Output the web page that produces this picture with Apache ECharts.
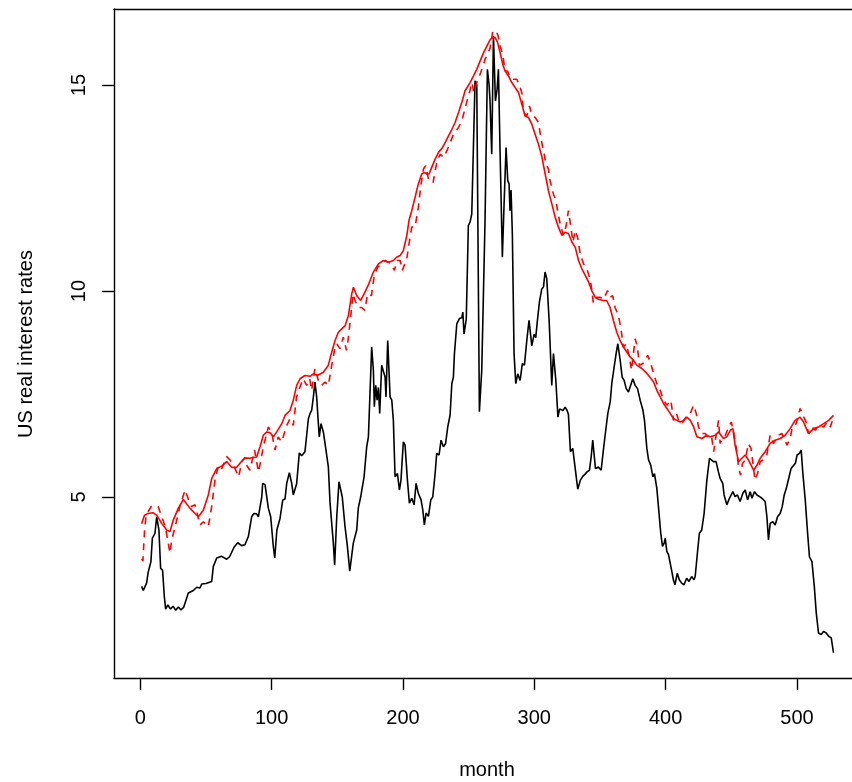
<!DOCTYPE html>
<html>
<head>
<meta charset="utf-8">
<script src="https://cdn.jsdelivr.net/npm/echarts@6/dist/echarts.min.js"></script>
<style>
  html, body { margin: 0; padding: 0; background: #fff; }
  #chart { width: 852px; height: 782px; }
</style>
</head>
<body>
<div id="chart"></div>
<script>
// Monthly US real interest rate (black line)
const rateMonths = [1,2.3,4.8,6,8.1,9.2,11.2,12.5,14.2,15.5,17,18.3,19.3,21,23,25,27,29,31,33,34,36.6,40.4,43,45.5,46.8,50,54.4,55.6,58.2,62,65.8,68,71.4,74.2,77.2,79.7,82.3,84.8,86.5,88.6,89.9,92.5,93.2,95,97.5,99.3,101.3,102.4,104,106.4,108.5,110.2,111.5,113.5,115.3,116.5,119.1,121.1,122.9,125.4,126.7,128,129.3,130.5,131.8,133,134.3,135.6,136.3,137.6,139.4,141.4,143.2,144.5,147,148,149.6,151.3,153.8,155.9,157.7,159.5,162.2,164.8,166,167.8,170.4,172.4,173.7,176.2,177.5,178.2,179.3,180.3,181.3,182.3,183.8,185.1,186.4,187.1,188.4,190.2,191.5,192.7,194,195.8,197.3,198.5,200.3,201.6,203.4,204.9,206.7,208.5,210,211.7,213.8,215.1,216.3,217.6,219.4,221.2,222.7,224.5,225.7,227.5,229,230.8,232.5,234.1,235.9,237.2,238.4,239.2,241,243,244.8,245.6,246.5,248.2,249.8,251.1,252.4,253.7,254.9,256.2,258.2,260,262.5,264.3,265.6,266.3,267.6,268.9,270.4,271.7,272.7,274,275.7,277,278.5,279.8,280.8,281.5,282.3,283.3,284.6,285.9,287.4,289.2,290.9,292.5,294.3,296,298.1,299.9,301.1,302.4,303.9,305.7,307,308.2,309.5,311.3,313.3,314.6,316.4,318,319.3,321.8,323.5,325,326,327.5,329.3,331,333.1,335.1,336.9,338.5,340.2,342,343.3,344.5,346.6,348.8,350.9,352.6,354.4,356,357.8,359,360.8,362.3,363.6,365.4,366.9,368.4,370,371.7,373,375,376.8,378.6,380.6,382.7,383.9,385.7,387,388.7,390.3,391.5,393.3,395.1,396.3,397.6,398.9,399.7,400.9,402.2,404.5,405.9,407.1,408.9,410.4,412.2,414,416,417.8,419.8,421.6,422.5,424.2,425.7,427.5,429.3,431.4,433.4,434.6,436.4,438.4,440.2,441.5,443.5,444.5,446.6,448.6,451.2,452.9,454.7,456.7,458.8,460.6,462.4,464.4,465.7,467.7,469.5,471.6,473.3,475.8,477.1,478.3,479.6,481.6,483.4,485.2,487.2,488.8,490.3,491.9,493.7,495.5,497,498.8,500.1,501.9,503.2,504.5,506.3,508.1,509.5,511.4,513.2,514.7,516.4,518.5,520.3,522.3,524.1,526.1,527.8];
const rateValues = [2.83,2.73,2.91,3.17,3.43,4.0,4.12,4.52,4.2,3.27,3.22,2.59,2.28,2.38,2.28,2.35,2.25,2.33,2.26,2.32,2.28,2.67,2.73,2.81,2.79,2.89,2.9,2.95,3.31,3.52,3.56,3.49,3.55,3.78,3.89,3.82,3.84,4.04,4.52,4.6,4.59,4.52,5.0,5.33,5.3,4.73,4.52,3.8,3.52,4.2,4.48,4.93,4.95,5.33,5.59,5.33,5.05,5.33,6.07,6.0,6.1,6.5,6.9,7.03,7.1,7.43,7.79,7.43,6.78,6.46,6.78,6.58,6.14,5.73,4.85,3.88,3.35,4.52,5.37,5.0,4.28,3.8,3.2,3.88,4.2,4.73,5.0,5.49,6.22,6.46,8.64,8.07,7.19,7.71,7.35,7.66,7.03,8.2,8.16,7.91,7.43,8.8,7.43,7.35,6.86,5.49,5.57,5.17,5.41,6.34,6.26,5.41,4.85,4.97,4.81,5.33,5.09,4.93,4.69,4.32,4.61,4.53,4.93,5.0,5.57,6.06,6.02,6.38,6.22,6.3,6.7,6.99,7.75,7.91,8.48,9.2,9.33,9.35,9.49,8.96,9.31,11.59,11.67,11.87,11.9,15.1,15.0,7.07,8.08,11.7,15.38,15.0,14.61,13.32,16.19,14.61,14.9,15.38,13.3,10.82,12.11,13.48,12.68,12.6,11.95,12.45,11.38,8.48,7.75,7.99,7.83,8.24,8.2,8.8,9.29,8.67,8.95,8.87,9.29,9.73,10.05,10.1,10.46,10.3,9.29,7.71,8.48,7.83,6.94,7.14,7.1,7.18,7.1,7.0,6.1,6.18,5.73,5.19,5.41,5.5,5.55,5.61,5.65,5.97,6.38,5.69,5.73,5.65,6.14,6.62,7.03,7.31,7.75,8.15,8.48,8.72,8.32,7.91,7.83,7.63,7.55,7.59,7.87,7.71,7.63,7.35,7.11,6.86,6.18,5.9,5.77,5.49,5.57,5.21,4.56,4.12,3.8,3.88,4.0,3.68,3.6,3.23,2.99,2.87,3.15,2.99,2.91,2.87,3.03,2.95,3.07,2.99,3.07,3.64,4.12,4.2,4.6,5.41,5.94,5.98,5.86,5.86,5.61,5.45,5.33,5.05,4.81,4.97,5.13,5.01,5.05,4.89,5.09,5.17,4.93,5.13,4.97,5.13,5.05,5.01,4.97,4.89,4.52,3.96,4.36,4.4,4.32,4.52,4.6,4.77,5.05,5.21,5.45,5.69,5.67,5.82,6.02,6.06,6.14,5.57,4.93,4.12,3.55,3.43,2.83,2.18,1.7,1.66,1.74,1.7,1.62,1.58,1.22];

// Trend estimate (solid red line)
const trendMonths = [1,3.3,5.8,9.6,12.5,16.3,20.1,22.6,25.1,29,32.8,34,37.8,41.7,44.2,48,51.8,54.4,58.2,62,65.8,69.6,73.4,75.9,79.7,83.5,86,88.6,91.2,93.7,96.3,98.8,101.3,103.9,107.7,110.2,114,116.5,119.1,121.6,125.4,129.3,131.8,134.8,136.3,139.4,143.2,145.8,148.3,150.8,153.4,156,158.5,161,162.3,164.8,167.8,170.4,173.7,177.5,181.3,185.1,188.9,192.7,195.2,197.8,200.3,202.9,204.6,206.7,209.2,211.7,214.3,216.3,218.1,219.9,221.9,224.5,227,230,232.1,234.6,237.2,239.7,242.5,245,247.3,251.1,253.7,256.2,258.7,261.3,263.8,266.4,268.4,270.2,272,274,276,277.8,280.3,282.9,285.4,288,290.5,293,295.6,298.1,300.7,303.2,305.7,308.3,310.8,313.4,315.9,318.4,321,323.5,326.1,328.6,331.2,333.7,336.2,338.8,341.3,343.9,346.4,348.8,352.6,355.1,357.7,360.2,362.8,365.3,367.9,370.4,373,375.5,378,381.9,385.7,388,390.8,393.3,395.9,398.4,401,403.5,406,408.6,411.1,413.7,416.2,418.8,421.3,423.8,427.6,431.4,434,437.8,440.3,444,446.5,449.3,451.2,452.9,455.5,458,460.6,463,467,469.5,472,475.8,479.6,483.4,487.2,491,494.8,498.6,502.4,505,508.8,512.6,516.4,520.3,524.1,527.8];
const trendValues = [4.35,4.56,4.6,4.62,4.56,4.36,4.2,4.16,4.44,4.73,4.94,4.93,4.73,4.6,4.52,4.68,5.05,5.45,5.69,5.75,5.86,5.72,5.72,5.82,5.95,5.94,5.96,5.97,6.22,6.5,6.58,6.56,6.46,6.58,6.78,6.98,7.1,7.35,7.71,7.87,7.95,7.93,7.99,7.95,7.91,8.03,8.2,8.52,8.8,9.0,9.08,9.16,9.41,9.93,10.09,9.89,9.77,9.93,10.15,10.46,10.66,10.74,10.7,10.74,10.82,10.86,10.98,11.34,11.71,11.95,12.27,12.6,12.84,12.88,12.84,12.84,13.0,13.2,13.36,13.48,13.6,13.76,13.92,14.09,14.35,14.6,14.86,15.06,15.22,15.38,15.58,15.78,15.94,16.1,16.16,16.15,16.04,15.78,15.5,15.34,15.22,15.06,14.94,14.82,14.53,14.25,14.21,14.05,13.8,13.56,13.27,12.84,12.43,12.11,11.79,11.55,11.35,11.43,11.39,11.19,11.06,10.74,10.54,10.38,10.22,10.0,9.85,9.8,9.77,9.77,9.6,9.29,9.0,8.8,8.64,8.52,8.4,8.32,8.2,8.12,8.0,7.91,7.79,7.59,7.43,7.27,7.15,7.03,6.9,6.86,6.82,6.86,6.94,6.86,6.7,6.46,6.42,6.5,6.46,6.5,6.58,6.42,6.46,6.62,6.66,6.26,5.86,5.94,6.02,5.9,5.65,5.77,5.94,6.1,6.3,6.38,6.42,6.5,6.66,6.86,6.94,6.82,6.54,6.66,6.7,6.78,6.86,6.98];

// Alternative trend estimate (dashed red line)
const altMonths = [1,2,3.3,4.5,8.3,13.6,16.3,19.1,22.6,24,26.6,30.4,34.2,36.8,39,41.7,45.5,48,51.8,54.4,56.9,59.5,62,65.8,68.3,71,74.9,77.5,79.7,81,83.5,87,90,91.3,93.7,97.5,100,102.6,105,107.7,111.5,114,116.5,119,121.6,124,126.7,129,130.5,133,135.6,138,140.7,143.2,145.8,148.3,149.6,152,154.6,157,158.2,160.3,162,163.5,166,168.6,171,173,176,178.2,180.8,183.3,186.4,188.9,191,193.5,195.5,197.8,199.5,201,202.9,204.6,206.7,209.2,211.7,213.8,215.6,217.4,219.4,221,223,224.5,226.5,228.5,230.8,233.4,235.9,238.4,242.3,244.8,247,249.5,251,252.5,254,256.2,258.7,260.5,262.5,264.3,266.4,268.4,271,272.5,274,276,277.8,279.6,281.6,284,286.7,289.2,290.5,291.8,294.3,296.3,298,300.7,303.2,305,307,309,310.8,312,314.6,316.6,317.9,319.7,322.2,324.3,326,327.5,329.4,331.2,333,335,337.5,340,342,343.5,345,347.7,350,352.6,355.8,357.8,359.7,361.5,364,365.8,367.9,370,372.4,374,376.8,378.5,380,382.7,386.3,388.7,390.8,393.3,395.9,398.4,401,404,406,408.3,410.6,413.2,416.2,418.8,421.3,423.3,425,427.6,430.2,432.7,435,436.6,439,440.3,441.5,443,445,448,450,452,454,455.5,457,458.5,460.6,463,465,467,468,470,472,474.5,477,479.6,482,486,488.6,492.4,494.8,496.5,499.4,502.4,504.5,507,508.8,511.4,514,516.4,520.3,523,525.4,527.8];
const altValues = [3.5,3.45,4.21,4.56,4.77,4.77,4.52,4.28,3.64,3.97,4.28,4.81,5.17,4.93,4.77,4.81,4.32,4.4,4.28,4.77,5.41,5.77,5.69,5.98,5.9,5.77,5.49,5.88,5.95,5.77,5.65,6.14,5.61,5.81,6.22,6.7,6.58,6.14,6.46,6.34,6.74,6.9,6.74,7.43,7.67,7.87,7.71,7.87,7.59,8.12,7.83,7.71,7.79,7.71,8.2,8.64,8.72,8.6,8.88,8.56,8.8,9.41,9.93,9.77,9.6,9.6,9.53,9.93,9.89,10.38,10.58,10.66,10.74,10.7,10.66,10.5,10.74,10.74,10.5,10.54,10.78,11.14,11.55,11.55,12.03,12.6,12.96,13.04,12.72,12.64,12.64,12.92,13.2,13.32,13.24,13.4,13.6,13.8,13.97,14.13,14.4,14.7,14.86,15.06,14.82,15.06,15.26,15.42,15.62,15.74,15.9,16.31,16.31,16.19,15.94,15.74,15.34,15.34,15.18,15.14,15.14,14.94,14.82,14.33,14.25,14.49,14.29,14.21,14.09,13.72,13.4,13.08,12.96,12.68,12.35,12.19,11.91,11.63,11.35,11.59,11.95,11.63,11.19,11.47,11.3,10.9,10.66,10.54,10.34,10.1,9.7,9.85,9.85,9.8,10.01,9.85,9.89,9.6,9.41,9.12,8.64,8.72,8.4,8.08,8.84,8.64,8.2,8.24,8.44,8.24,8.0,7.75,7.59,7.35,7.23,7.35,6.86,7.03,6.78,6.82,6.98,7.03,7.23,7.03,6.7,6.54,6.54,6.42,6.46,6.1,6.62,6.86,6.3,6.42,6.46,6.7,6.82,6.54,6.14,5.73,5.53,5.81,5.9,6.3,6.18,5.69,5.41,5.57,5.86,5.9,6.02,6.5,6.3,6.5,6.54,6.26,6.42,6.7,6.78,7.15,6.98,6.82,6.54,6.7,6.62,6.74,6.7,6.82,6.7,6.94];

// Axis ticks
const xTicks = [0, 100, 200, 300, 400, 500];
const yTicks = [5, 10, 15];

function pairs(xs, ys) {
  return xs.map((x, i) => [x, ys[i]]);
}

const FONT = '"Liberation Sans", Arial, Helvetica, sans-serif';
const chart = echarts.init(document.getElementById('chart'), null, { renderer: 'canvas' });

const lineBase = { type: 'line', showSymbol: false, symbol: 'none', animation: false, silent: true, clip: true };

chart.setOption({
  backgroundColor: '#ffffff',
  animation: false,
  grid: { left: 114, top: 9, right: 0, bottom: 104, containLabel: false },
  xAxis: [
    {
      type: 'value', min: -20, max: 541.9, position: 'bottom',
      axisLine: { show: true, onZero: false, lineStyle: { color: '#000', width: 1.4 } },
      axisTick: { show: true, length: 12, customValues: xTicks, lineStyle: { color: '#000', width: 1.4 } },
      axisLabel: { show: true, customValues: xTicks, margin: 30, color: '#000', fontSize: 20, fontFamily: FONT },
      splitLine: { show: false }
    },
    {
      type: 'value', min: -20, max: 541.9, position: 'top',
      axisLine: { show: true, onZero: false, lineStyle: { color: '#000', width: 1.4 } },
      axisTick: { show: false }, axisLabel: { show: false }, splitLine: { show: false }
    }
  ],
  yAxis: {
    type: 'value', min: 0.607, max: 16.845,
    axisLine: { show: true, onZero: false, lineStyle: { color: '#000', width: 1.4 } },
    axisTick: { show: true, length: 12, customValues: yTicks, lineStyle: { color: '#000', width: 1.4 } },
    axisLabel: { show: true, customValues: yTicks, rotate: 90, margin: 25, color: '#000', fontSize: 20, fontFamily: FONT },
    splitLine: { show: false }
  },
  graphic: [
    {
      type: 'text', x: 487, y: 770,
      style: { text: 'month', fill: '#000', font: '20px ' + FONT, textAlign: 'center', textVerticalAlign: 'middle' }
    },
    {
      type: 'text', x: 26, y: 344, rotation: Math.PI / 2,
      style: { text: 'US real interest rates', fill: '#000', font: '20px ' + FONT, textAlign: 'center', textVerticalAlign: 'middle' }
    }
  ],
  series: [
    Object.assign({}, lineBase, {
      name: 'rate', data: pairs(rateMonths, rateValues),
      lineStyle: { color: '#000000', width: 1.6 }, z: 2
    }),
    Object.assign({}, lineBase, {
      name: 'trend', data: pairs(trendMonths, trendValues),
      lineStyle: { color: '#ff0000', width: 1.6 }, z: 3
    }),
    Object.assign({}, lineBase, {
      name: 'trend alt', data: pairs(altMonths, altValues),
      lineStyle: { color: '#ff0000', width: 1.6, type: [7, 6] }, z: 4
    })
  ]
});
</script>
</body>
</html>
